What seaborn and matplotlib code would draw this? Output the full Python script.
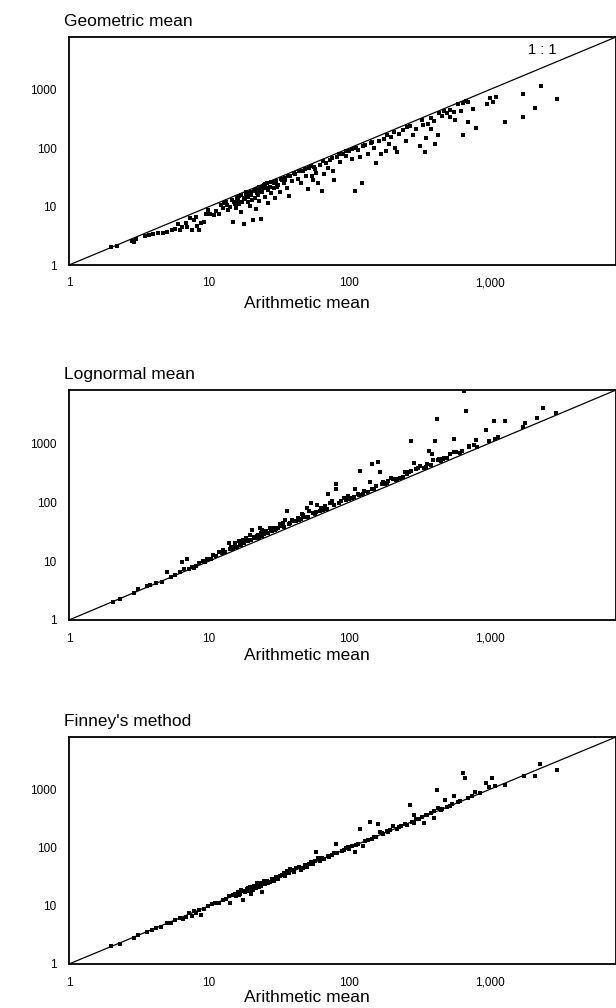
import matplotlib
matplotlib.use("Agg")
import matplotlib.pyplot as plt
import seaborn as sns
import pandas as pd
from matplotlib.ticker import FixedLocator, FixedFormatter, NullLocator

# ---------------- data ----------------
geo_x = [2.0, 2.2, 2.8, 2.9, 3.0, 3.5, 3.7, 4.0, 4.3, 4.7, 5.0, 5.4, 5.7, 6.0, 6.2, 6.4, 6.8, 7.0, 7.3, 7.5,
         7.8, 8.0, 8.2, 8.5, 8.8, 9.2, 9.5, 9.8, 10.2, 10.8, 11.2, 11.8, 12.2, 12.6, 13.2, 13.6, 14.2, 14.8, 15.2, 15.6,
         16.0, 16.4, 16.8, 17.2, 17.6, 18.0, 18.4, 18.8, 19.2, 19.6, 20.0, 20.5, 20.8, 21.2, 21.6, 22.0, 22.4, 22.8, 23.2, 23.6,
         24.0, 24.5, 25.0, 25.5, 26.0, 26.5, 27.0, 27.5, 28.0, 28.8, 29.5, 30.0, 31.0, 32.0, 33.0, 34.0, 35.0, 36.0, 37.0, 38.0,
         39.0, 41.0, 43.0, 45.0, 47.0, 49.0, 51.0, 52.0, 54.0, 55.0, 56.0, 58.0, 60.0, 62.0, 64.0, 66.0, 68.0, 70.0, 73.0, 76.0,
         78.0, 82.0, 86.0, 90.0, 95.0, 100.0, 105.0, 110.0, 112.0, 116.0, 120.0, 124.0, 130.0, 135.0, 142.0, 150.0, 156.0, 162.0, 168.0, 176.0,
         184.0, 192.0, 200.0, 212.0, 218.0, 228.0, 242.0, 255.0, 272.0, 285.0, 300.0, 320.0, 335.0, 345.0, 355.0, 365.0, 385.0, 405.0, 412.0, 430.0,
         455.0, 475.0, 500.0, 525.0, 555.0, 565.0, 600.0, 625.0, 650.0, 700.0, 705.0, 760.0, 800.0, 960.0, 1010.0, 1060.0, 1120.0, 1300.0, 1750.0, 1750.0,
         2100.0, 2330.0, 3050.0,
         12.8, 13.5, 14.5, 15.0, 15.8, 16.2, 17.0, 17.8, 18.2, 19.0, 19.8, 20.3, 21.0, 21.8, 22.6, 23.0, 24.2, 25.2, 26.2, 27.5,
         29.0, 30.5, 32.5, 34.5, 36.5, 40.0, 44.0, 48.0, 53.0, 57.0, 65.0, 75.0, 85.0, 95.0, 105.0, 125.0, 145.0, 185.0, 210.0, 260.0,
         330.0, 380.0, 440.0, 520.0, 650.0, 680.0]
geo_y = [2.0, 2.15, 2.6, 2.5, 2.8, 3.1, 3.3, 3.4, 3.5, 3.6, 3.7, 3.9, 4.1, 5.0, 3.9, 4.5, 5.3, 4.4, 6.4, 4.0,
         5.8, 6.6, 4.6, 3.9, 5.2, 5.5, 7.4, 8.6, 7.5, 7.2, 8.3, 7.6, 10.5, 9.4, 12.2, 8.6, 10.0, 5.5, 11.2, 9.5,
         13.2, 15.0, 8.0, 11.8, 5.0, 14.0, 16.5, 12.2, 17.0, 10.2, 15.5, 6.0, 18.5, 14.0, 9.0, 20.0, 16.0, 12.5, 21.5, 6.2,
         18.0, 23.0, 14.5, 20.5, 25.0, 11.5, 22.0, 17.0, 26.5, 21.0, 14.0, 27.5, 23.5, 18.0, 29.0, 25.0, 31.0, 21.0, 15.0, 33.0,
         27.0, 36.0, 30.0, 25.0, 40.0, 34.0, 20.0, 45.0, 33.0, 28.0, 48.0, 38.0, 25.0, 52.0, 18.5, 36.0, 56.0, 45.0, 62.0, 40.0,
         29.0, 70.0, 58.0, 80.0, 74.0, 88.0, 66.0, 18.5, 102.0, 92.0, 72.0, 25.0, 112.0, 80.0, 122.0, 100.0, 56.0, 135.0, 78.0, 145.0,
         88.0, 118.0, 155.0, 102.0, 85.0, 175.0, 205.0, 132.0, 235.0, 165.0, 215.0, 108.0, 245.0, 86.0, 150.0, 255.0, 215.0, 290.0, 120.0, 165.0,
         360.0, 430.0, 405.0, 335.0, 410.0, 300.0, 570.0, 430.0, 165.0, 620.0, 285.0, 460.0, 225.0, 560.0, 710.0, 610.0, 760.0, 285.0, 830.0, 345.0,
         490.0, 1150.0, 690.0,
         11.5, 10.5, 13.0, 12.0, 14.0, 11.0, 16.0, 13.5, 17.5, 14.5, 18.0, 13.0, 19.5, 17.0, 22.0, 18.5, 21.0, 24.0, 19.5, 26.0,
         25.0, 22.0, 30.0, 28.0, 33.0, 38.0, 41.0, 44.0, 50.0, 44.0, 60.0, 68.0, 78.0, 88.0, 95.0, 110.0, 130.0, 165.0, 190.0, 230.0,
         300.0, 330.0, 400.0, 450.0, 600.0, 640.0]

logn_x = [2.05, 2.3, 2.9, 3.1, 3.6, 3.8, 4.2, 4.6, 5.0, 5.3, 5.7, 6.2, 6.4, 6.6, 6.9, 7.2, 7.5, 7.8, 8.0, 8.5,
          9.0, 9.4, 9.7, 10.3, 10.7, 11.2, 11.8, 12.3, 12.5, 13.0, 13.8, 14.3, 14.8, 15.2, 15.8, 16.2, 16.8, 17.3, 17.8, 18.4,
          18.9, 19.4, 19.7, 20.3, 20.8, 21.3, 22.0, 22.4, 23.0, 23.4, 23.8, 24.5, 25.5, 26.0, 27.0, 28.0, 29.0, 30.0, 32.0, 33.0,
          34.0, 35.0, 36.0, 38.0, 40.0, 42.0, 43.0, 45.0, 46.0, 48.0, 50.0, 52.0, 53.0, 55.0, 58.0, 59.0, 62.0, 65.0, 67.0, 70.0,
          73.0, 75.0, 78.0, 80.0, 80.0, 84.0, 87.0, 92.0, 95.0, 100.0, 105.0, 110.0, 115.0, 120.0, 125.0, 128.0, 135.0, 140.0, 145.0, 145.0,
          155.0, 160.0, 165.0, 170.0, 175.0, 180.0, 190.0, 200.0, 205.0, 215.0, 230.0, 240.0, 250.0, 260.0, 275.0, 275.0, 290.0, 300.0, 320.0, 340.0,
          360.0, 370.0, 380.0, 390.0, 395.0, 410.0, 425.0, 430.0, 450.0, 470.0, 475.0, 500.0, 525.0, 560.0, 560.0, 580.0, 620.0, 640.0, 660.0, 680.0,
          710.0, 720.0, 780.0, 800.0, 820.0, 950.0, 1000.0, 1070.0, 1100.0, 1150.0, 1300.0, 1750.0, 1800.0, 2200.0, 2400.0, 3000.0,
          14.0, 15.0, 16.5, 17.5, 18.0, 19.0, 20.0, 21.0, 22.5, 23.5, 24.0, 25.0, 26.5, 27.5, 29.5, 31.0, 33.5, 37.0, 39.0, 44.0,
          47.0, 51.0, 57.0, 63.0, 69.0, 85.0, 98.0, 108.0, 118.0, 150.0, 185.0, 220.0, 265.0, 310.0, 350.0, 440.0]
logn_y = [2.0, 2.3, 2.9, 3.3, 3.8, 4.0, 4.2, 4.5, 6.6, 5.4, 5.8, 6.6, 9.7, 7.4, 10.8, 7.3, 7.8, 7.6, 8.2, 9.1,
          10.0, 9.6, 11.0, 11.0, 12.6, 12.2, 14.4, 13.5, 15.4, 14.2, 20.0, 17.5, 16.0, 20.0, 17.5, 21.5, 19.0, 23.0, 20.5, 24.5,
          22.0, 23.0, 28.0, 34.0, 26.0, 24.5, 27.0, 28.0, 36.0, 27.5, 34.0, 29.0, 32.0, 29.5, 36.0, 32.0, 37.0, 34.5, 42.0, 39.0,
          38.0, 50.0, 72.0, 45.0, 47.0, 48.0, 54.0, 52.0, 62.0, 56.0, 80.0, 70.0, 97.0, 66.0, 68.0, 91.0, 72.0, 75.0, 85.0, 135.0,
          97.0, 105.0, 90.0, 200.0, 165.0, 98.0, 104.0, 118.0, 110.0, 112.0, 118.0, 165.0, 135.0, 340.0, 140.0, 154.0, 150.0, 220.0, 440.0, 165.0,
          188.0, 480.0, 320.0, 200.0, 220.0, 205.0, 230.0, 260.0, 245.0, 240.0, 260.0, 270.0, 320.0, 300.0, 340.0, 1080.0, 470.0, 365.0, 410.0, 380.0,
          440.0, 750.0, 420.0, 650.0, 510.0, 1080.0, 2550.0, 520.0, 500.0, 550.0, 570.0, 560.0, 650.0, 700.0, 1200.0, 700.0, 680.0, 740.0, 7600.0, 3500.0,
          860.0, 880.0, 940.0, 1150.0, 850.0, 1650.0, 1100.0, 2350.0, 1200.0, 1300.0, 2400.0, 1900.0, 2200.0, 2700.0, 4000.0, 3300.0,
          16.0, 17.5, 18.5, 21.0, 22.5, 21.5, 23.0, 25.5, 25.0, 30.0, 27.0, 31.0, 30.5, 33.0, 33.5, 36.0, 44.0, 42.0, 50.0, 50.0,
          60.0, 57.0, 64.0, 80.0, 77.0, 95.0, 125.0, 122.0, 130.0, 170.0, 215.0, 250.0, 320.0, 380.0, 400.0, 540.0]

finney_x = [2.0, 2.3, 2.9, 3.1, 3.6, 3.9, 4.2, 4.5, 5.0, 5.3, 5.7, 6.2, 6.5, 6.8, 7.2, 7.5, 7.8, 8.0, 8.4, 8.8,
            9.2, 9.8, 10.5, 11.0, 11.8, 12.5, 13.2, 13.8, 14.2, 14.8, 15.5, 16.0, 16.5, 17.0, 17.3, 18.0, 18.5, 19.0, 19.5, 20.0,
            20.5, 21.0, 21.5, 22.0, 22.5, 23.0, 24.0, 24.5, 25.0, 26.0, 27.0, 28.0, 29.0, 30.0, 31.0, 32.0, 34.0, 35.0, 36.0, 38.0,
            40.0, 42.0, 45.0, 48.0, 50.0, 53.0, 55.0, 58.0, 60.0, 62.0, 66.0, 70.0, 75.0, 80.0, 82.0, 88.0, 95.0, 100.0, 105.0, 110.0,
            115.0, 120.0, 125.0, 130.0, 140.0, 145.0, 150.0, 160.0, 165.0, 175.0, 185.0, 195.0, 205.0, 220.0, 235.0, 250.0, 270.0, 280.0, 290.0, 290.0,
            315.0, 330.0, 340.0, 360.0, 380.0, 400.0, 400.0, 420.0, 430.0, 460.0, 480.0, 500.0, 540.0, 560.0, 600.0, 650.0, 670.0, 700.0, 750.0, 790.0,
            850.0, 950.0, 1000.0, 1050.0, 1100.0, 1300.0, 1770.0, 2100.0, 2300.0, 3050.0,
            15.2, 16.2, 17.6, 18.8, 19.8, 20.8, 21.8, 22.8, 23.5, 25.5, 26.5, 28.5, 30.5, 33.0, 37.0, 39.0, 44.0, 47.0, 52.0, 57.0,
            64.0, 72.0, 78.0, 92.0, 98.0, 112.0, 135.0, 155.0, 170.0, 190.0, 225.0, 260.0, 300.0, 350.0, 450.0, 520.0, 620.0]
finney_y = [2.0, 2.25, 2.85, 3.1, 3.6, 3.8, 4.2, 4.4, 5.0, 5.1, 5.6, 6.3, 5.9, 6.5, 7.6, 6.6, 8.2, 7.4, 8.4, 7.0,
            9.0, 9.9, 10.8, 11.4, 11.0, 12.8, 13.0, 14.5, 11.4, 15.2, 14.5, 17.5, 16.0, 18.5, 12.6, 17.0, 19.5, 18.0, 21.5, 16.0,
            18.5, 22.0, 20.5, 24.5, 21.0, 25.0, 17.6, 26.5, 23.5, 27.0, 25.5, 29.5, 27.0, 31.5, 29.0, 33.0, 36.0, 32.0, 40.0, 43.0,
            38.0, 44.0, 42.0, 50.0, 46.0, 56.0, 52.0, 85.0, 67.0, 58.0, 64.0, 72.0, 75.0, 118.0, 80.0, 86.0, 98.0, 96.0, 108.0, 84.0,
            118.0, 210.0, 105.0, 130.0, 275.0, 140.0, 155.0, 260.0, 185.0, 170.0, 195.0, 200.0, 240.0, 210.0, 235.0, 260.0, 540.0, 280.0, 265.0, 360.0,
            310.0, 340.0, 265.0, 370.0, 400.0, 330.0, 430.0, 970.0, 480.0, 470.0, 660.0, 510.0, 560.0, 780.0, 620.0, 1920.0, 1570.0, 720.0, 760.0, 900.0,
            870.0, 1280.0, 1100.0, 1550.0, 1140.0, 1220.0, 1720.0, 1720.0, 2750.0, 2150.0,
            16.0, 15.5, 18.2, 20.0, 19.0, 21.5, 22.8, 23.0, 22.0, 26.5, 25.0, 28.0, 30.0, 34.5, 36.5, 41.0, 46.0, 45.0, 53.0, 58.0,
            66.0, 70.0, 80.0, 90.0, 104.0, 110.0, 138.0, 150.0, 178.0, 185.0, 230.0, 250.0, 310.0, 360.0, 440.0, 530.0, 640.0]

panel_titles = ["Geometric mean", "Lognormal mean", "Finney's method"]
x_label = "Arithmetic mean"
x_ticks = [1, 10, 100, 1000]
x_tick_labels = ["1", "10", "100", "1,000"]
y_ticks = [1, 10, 100, 1000]
y_tick_labels = ["1", "10", "100", "1000"]
axis_lims = [1, 8000]
ref_label = "1 : 1"

# ---------------- plotting ----------------
sns.set_style("white")
plt.rcParams["font.family"] = ["Liberation Sans", "DejaVu Sans"]

W, H = 616, 1008
fig = plt.figure(figsize=(W / 100, H / 100), dpi=100)

# axes boxes in pixels: left, top, right, bottom
boxes = [(69, 37, 616, 265), (69, 390, 616, 620), (69, 737, 616, 964)]
xlabel_y = [303, 655, 998]
series = [(geo_x, geo_y), (logn_x, logn_y), (finney_x, finney_y)]

for i, ((l, t, r, b), (xs, ys), title) in enumerate(zip(boxes, series, panel_titles)):
    ax = fig.add_axes([l / W, 1 - b / H, (r - l) / W, (b - t) / H])
    df = pd.DataFrame({"x": xs, "y": ys})
    ax.set_xscale("log")
    ax.set_yscale("log")
    ax.plot(axis_lims, axis_lims, color="black", lw=0.9, zorder=1)
    sns.scatterplot(data=df, x="x", y="y", ax=ax, marker="s", s=11,
                    color="black", linewidth=0, zorder=2, legend=False)
    ax.set_xlim(axis_lims)
    ax.set_ylim(axis_lims)
    ax.xaxis.set_major_locator(FixedLocator(x_ticks))
    ax.xaxis.set_major_formatter(FixedFormatter(x_tick_labels))
    ax.yaxis.set_major_locator(FixedLocator(y_ticks))
    ax.yaxis.set_major_formatter(FixedFormatter(y_tick_labels))
    ax.xaxis.set_minor_locator(NullLocator())
    ax.yaxis.set_minor_locator(NullLocator())
    ax.tick_params(axis="both", direction="out", length=5, width=1.0, color="black",
                   labelsize=8.5, labelcolor="black", pad=4)
    for s in ax.spines.values():
        s.set_visible(True)
        s.set_color("black")
        s.set_linewidth(1.3)
    ax.set_xlabel("")
    ax.set_ylabel("")
    # x-axis title, placed in figure pixels
    fig.text(307 / W, 1 - xlabel_y[i] / H, x_label, fontsize=12.5, ha="center",
             va="center", color="black")
    ax.text(-0.01, 1.035, title, transform=ax.transAxes, fontsize=12.5,
            ha="left", va="bottom", color="black")
    if i == 0:
        ax.text(0.865, 0.975, ref_label, transform=ax.transAxes, fontsize=10.5,
                ha="center", va="top", color="black")

fig.savefig("out.png", dpi=100, facecolor="white")
